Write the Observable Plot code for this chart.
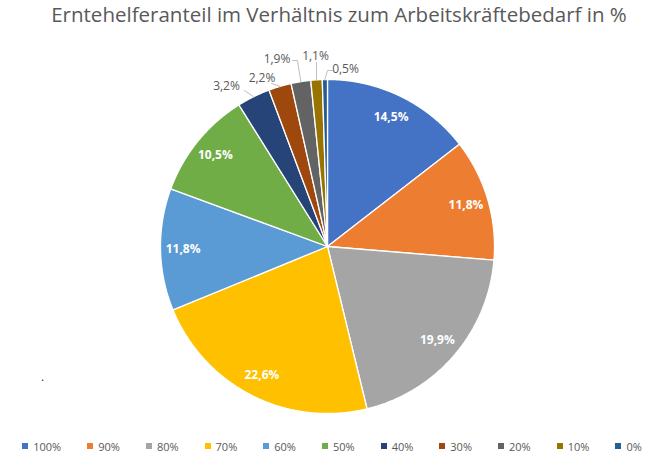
<!DOCTYPE html>
<html>
<head>
<meta charset="utf-8">
<script src="https://cdn.jsdelivr.net/npm/d3@7"></script>
<script src="https://cdn.jsdelivr.net/npm/@observablehq/plot@0.6"></script>
<style>
  html, body { margin: 0; padding: 0; background: #fff; }
  body { width: 664px; height: 464px; overflow: hidden; font-family: "Open Sans", sans-serif; }
  #title { height: 36px; line-height: 28px; text-align: center; font-size: 20.5px; color: #595959; white-space: nowrap; padding-left: 14px; }
  #legend { height: 28px; display: flex; align-items: center; justify-content: center; gap: 26px; font-size: 11px; color: #595959; padding-left: 0px; }
  .item { display: flex; align-items: center; }
  .sw { width: 6px; height: 6px; margin-right: 5px; }
  svg { display: block; }
</style>
</head>
<body>
<div id="title">Erntehelferanteil im Verhältnis zum Arbeitskräftebedarf in %</div>
<div id="chart"></div>
<div id="legend"></div>
<script>
// ---- data ----
const categories = ["100%", "90%", "80%", "70%", "60%", "50%", "40%", "30%", "20%", "10%", "0%"];
const values = [14.5, 11.8, 19.9, 22.6, 11.8, 10.5, 3.2, 2.2, 1.9, 1.1, 0.5];
const colors = ["#4472C4", "#ED7D31", "#A5A5A5", "#FFC000", "#5B9BD5", "#70AD47", "#264478", "#9E480E", "#636363", "#997300", "#255E91"];

// ---- layout (page pixels) ----
const W = 664, H = 396, topY = 36;
const cx = 327, cy = 246, R = 167;
const insideFrac = 0.865;
// outside label placement for small slices: label centre, and leader end / elbow
const outside = {
  "3.2": {lx: 226, ly: 86, pts: [[244, 90]]},
  "2.2": {lx: 261.5, ly: 77.5, pts: [[271, 83]]},
  "1.9": {lx: 276.5, ly: 59, pts: [[292, 60], [297, 60]]},
  "1.1": {lx: 315, ly: 56, pts: [[316, 62]]},
  "0.5": {lx: 345, ly: 69, pts: [[332, 70], [327, 70]]}
};

const fmt = v => d3.format(".1f")(v).replace(".", ",") + "%";
const pt = (a, r) => ({x: cx + r * Math.sin(a), y: cy - r * Math.cos(a)});

const arcs = d3.pie().sort(null).value(d => d)(values);

const marks = [];
arcs.forEach((a, i) => {
  const n = Math.max(2, Math.ceil((a.endAngle - a.startAngle) / (Math.PI / 720)));
  const poly = [{x: cx, y: cy}];
  for (let k = 0; k <= n; k++) poly.push(pt(a.startAngle + (a.endAngle - a.startAngle) * k / n, R));
  poly.push({x: cx, y: cy});
  marks.push(Plot.line(poly, {x: "x", y: "y", fill: colors[i], stroke: "white", strokeWidth: 1.3, strokeLinejoin: "miter"}));
});

const inside = [], outLabels = [];
arcs.forEach((a, i) => {
  const mid = (a.startAngle + a.endAngle) / 2;
  const key = String(values[i]);
  if (outside[key] && values[i] < 5) {
    const o = outside[key];
    const e = pt(mid, R);
    const leader = [...o.pts.map(([x, y]) => ({x, y})), e];
    marks.push(Plot.line(leader, {x: "x", y: "y", stroke: "#bfbfbf", strokeWidth: 1}));
    outLabels.push({x: o.lx, y: o.ly, t: fmt(values[i])});
  } else {
    const p = pt(mid, R * insideFrac);
    inside.push({x: p.x, y: p.y, t: fmt(values[i])});
  }
});

marks.push(Plot.text(inside, {x: "x", y: "y", text: "t", fill: "white", fontWeight: "bold", fontSize: 12}));
marks.push(Plot.text(outLabels, {x: "x", y: "y", text: "t", fill: "#595959", fontSize: 12}));
marks.push(Plot.text([{x: 42, y: 377, t: "."}], {x: "x", y: "y", text: "t", fill: "#404040", fontSize: 12}));

const chart = Plot.plot({
  width: W,
  height: H,
  margin: 0,
  x: {domain: [0, W], range: [0, W], axis: null},
  y: {domain: [topY, topY + H], range: [0, H], axis: null},
  style: {fontFamily: "Open Sans, sans-serif", background: "white"},
  marks
});
document.getElementById("chart").appendChild(chart);

const legend = document.getElementById("legend");
categories.forEach((c, i) => {
  const item = document.createElement("div");
  item.className = "item";
  item.innerHTML = `<span class="sw" style="background:${colors[i]}"></span><span>${c}</span>`;
  legend.appendChild(item);
});
</script>
</body>
</html>
